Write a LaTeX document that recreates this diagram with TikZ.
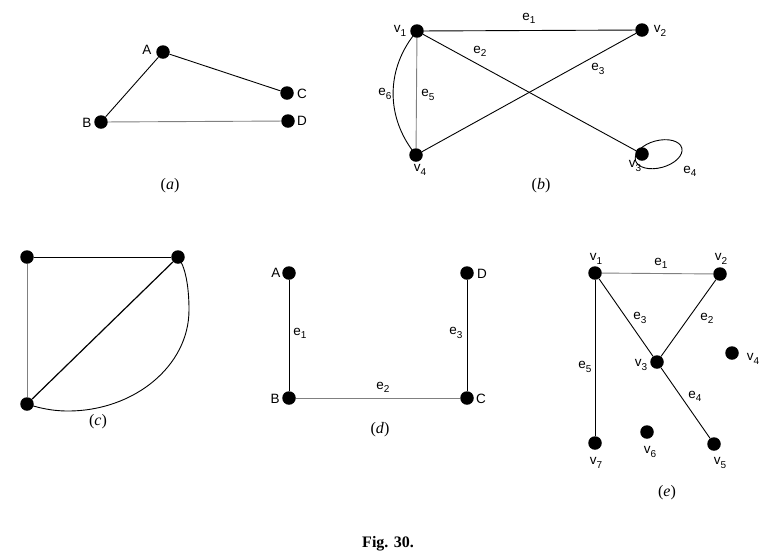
\documentclass[tikz,border=0pt]{standalone}
\usepackage{fontspec}
\setmainfont{Liberation Serif}
\setsansfont{Liberation Sans}
\newcommand\lsb[1]{\raisebox{-0.45ex}{\fontsize{10}{10}\selectfont #1}}
\tikzset{
  dot/.style={circle,fill=black,inner sep=0pt,minimum size=13.5pt},
  lab/.style={font=\sffamily\fontsize{13.5}{13.5}\selectfont,inner sep=0pt},
  subcap/.style={font=\fontsize{16}{16}\selectfont,inner sep=0pt},
  edge/.style={line width=0.9pt},
  gedge/.style={line width=0.9pt,draw=black!50},
}
\begin{document}
\begin{tikzpicture}[x=1pt,y=-1pt]
\useasboundingbox (0,0) rectangle (764,558);
% ---------- (a)
\node[dot] (aA) at (163,52) {};
\node[dot] (aB) at (101,122) {};
\node[dot] (aC) at (287,93) {};
\node[dot] (aD) at (288,121) {};
\draw[edge] (aA) -- (aC);
\draw[edge] (aA) -- (aB);
\draw[gedge] (aB) -- (aD);
\node[lab] (laA) at (147,50) {A};
\node[lab] (laB) at (87,123) {B};
\node[lab] (laC) at (302,94) {C};
\node[lab] (laD) at (302,121) {D};
\node[subcap] (capa) at (170,186) {(\textit{a})};
% ---------- (b)
\node[dot] (b1) at (417,31) {};
\node[dot] (b2) at (642,30) {};
\node[dot] (b3) at (642,154) {};
\node[dot] (b4) at (416,155) {};
\draw[edge] (b1) -- (b2);
\draw[edge] (b1) -- (b3);
\draw[edge] (b2) -- (b4);
\draw[gedge] (b1) -- (b4);
\draw[edge] (b1.center) to[bend right=40] (b4.center);
\draw[edge,rotate around={15:([shift={(16,4.5)}]b3.center)}] ([shift={(16,4.5)}]b3.center) ellipse (24 and 13.6);
\node[lab] (lb1) at (400,31) {v\lsb{1}};
\node[lab] (lb2) at (660,31) {v\lsb{2}};
\node[lab] (lb3) at (635,166) {v\lsb{3}};
\node[lab] (lb4) at (420,170) {v\lsb{4}};
\node[lab] (le1) at (529,18) {e\lsb{1}};
\node[lab] (le2) at (480,51) {e\lsb{2}};
\node[lab] (le3) at (598,69) {e\lsb{3}};
\node[lab] (le4) at (690,171) {e\lsb{4}};
\node[lab] (le5) at (428,95) {e\lsb{5}};
\node[lab] (le6) at (385,94) {e\lsb{6}};
\node[subcap] (capb) at (541,186) {(\textit{b})};
% ---------- (c)
\node[dot] (c1) at (27,257) {};
\node[dot] (c2) at (178,257) {};
\node[dot] (c3) at (27,404) {};
\draw[edge] (c1) -- (c2);
\draw[gedge] (c1) -- (c3);
\draw[line width=1.2pt] (c2) -- (c3);
\draw[edge] (c2.center) .. controls (185,266) and (189,285) .. (189,310)
  .. controls (189,366) and (134,411) .. (68,411)
  .. controls (50,411) and (36,407) .. (c3.center);
\node[subcap] (capc) at (98,422) {(\textit{c})};
% ---------- (d)
\node[dot] (dA) at (289,273) {};
\node[dot] (dB) at (289,398) {};
\node[dot] (dC) at (467,398) {};
\node[dot] (dD) at (467,273) {};
\draw[edge] (dA) -- (dB);
\draw[gedge] (dB) -- (dC);
\draw[edge] (dC) -- (dD);
\node[lab] (ldA) at (276,273) {A};
\node[lab] (ldB) at (275,399) {B};
\node[lab] (ldC) at (481,399) {C};
\node[lab] (ldD) at (482,274) {D};
\node[lab] (lde1) at (300,333) {e\lsb{1}};
\node[lab] (lde2) at (383,387) {e\lsb{2}};
\node[lab] (lde3) at (456,333) {e\lsb{3}};
\node[subcap] (capd) at (380,430) {(\textit{d})};
% ---------- (e)
\node[dot] (e1) at (595,273) {};
\node[dot] (e2) at (720,274) {};
\node[dot] (e3) at (657,362) {};
\node[dot] (e4) at (732,353) {};
\node[dot] (e5) at (714,444) {};
\node[dot] (e6) at (647,432) {};
\node[dot] (e7) at (595,443) {};
\draw[gedge] (e1) -- (e2);
\draw[edge] (e1) -- (e3);
\draw[edge] (e2) -- (e3);
\draw[edge] (e3) -- (e5);
\draw[edge] (e1) -- (e7);
\node[lab] (lv1) at (596,259) {v\lsb{1}};
\node[lab] (lv2) at (721,259) {v\lsb{2}};
\node[lab] (lv3) at (641,365) {v\lsb{3}};
\node[lab] (lv4) at (753,359) {v\lsb{4}};
\node[lab] (lv5) at (720,463) {v\lsb{5}};
\node[lab] (lv6) at (650,452) {v\lsb{6}};
\node[lab] (lv7) at (596,463) {v\lsb{7}};
\node[lab] (lee1) at (661,263) {e\lsb{1}};
\node[lab] (lee2) at (707,318) {e\lsb{2}};
\node[lab] (lee3) at (640,318) {e\lsb{3}};
\node[lab] (lee4) at (695,396) {e\lsb{4}};
\node[lab] (lee5) at (585,367) {e\lsb{5}};
\node[subcap] (cape) at (667,493) {(\textit{e})};
% ---------- caption
\node[font=\bfseries\fontsize{16}{16}\selectfont,inner sep=0pt] (fig) at (388,544) {Fig. 30.};
\end{tikzpicture}
\end{document}
